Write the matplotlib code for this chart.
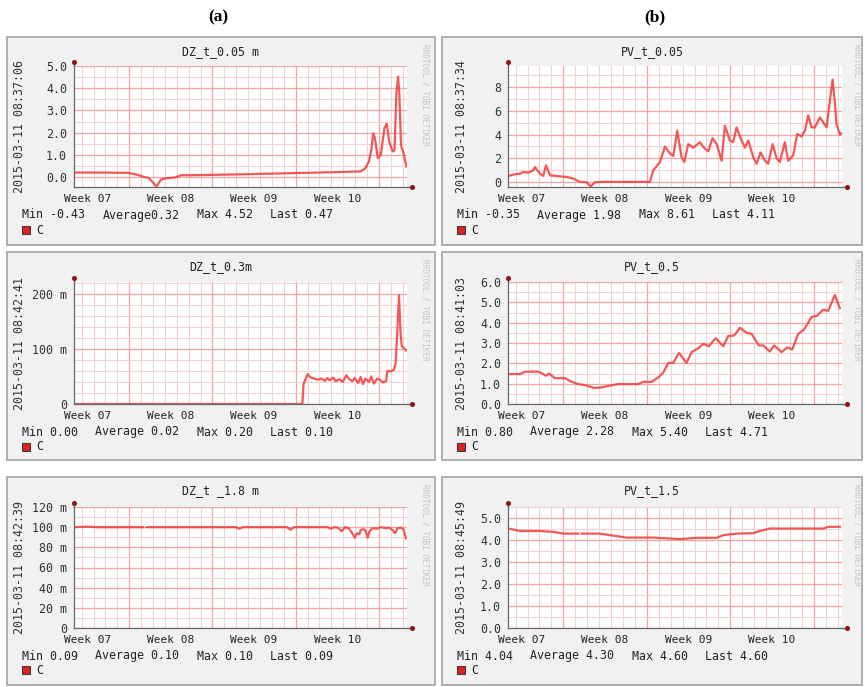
import numpy as np
import matplotlib.pyplot as plt
from matplotlib.patches import Rectangle

# x = days since 2015-02-11 08:37 (4-week window ending 2015-03-11)
week_starts = [4.64, 11.64, 18.64, 25.64]
week_mids = [1.14, 8.14, 15.14, 22.14]
week_labels = ["Week 07", "Week 08", "Week 09", "Week 10"]

# ---------- (a) DZ ----------
dz005_x = [0, 2, 4.5, 5.2, 5.8, 6.3, 6.95, 7.3, 7.8, 8.5, 9.0, 10, 14, 18, 22, 24.1,
           24.5, 24.8, 25.0, 25.15, 25.3, 25.55, 25.8, 26.1, 26.3, 26.5, 26.8, 26.95,
           27.1, 27.25, 27.35, 27.5, 27.7, 27.95]
dz005_y = [0.20, 0.20, 0.19, 0.12, 0.02, -0.05, -0.43, -0.12, -0.05, -0.02, 0.08, 0.08,
           0.12, 0.17, 0.22, 0.25, 0.40, 0.70, 1.20, 1.97, 1.75, 0.85, 1.00, 2.20, 2.40,
           1.60, 1.15, 1.20, 3.70, 4.52, 3.80, 1.40, 1.10, 0.47]

dz03_x = [0, 19.2, 19.3, 19.45, 19.65, 19.9, 20.2, 20.5, 20.8, 21.1, 21.3, 21.5, 21.8,
          22.0, 22.3, 22.6, 22.9, 23.1, 23.4, 23.6, 23.9, 24.1, 24.3, 24.5, 24.8, 25.0,
          25.2, 25.5, 25.7, 26.0, 26.25, 26.35, 26.6, 26.9, 27.05, 27.15, 27.33, 27.45,
          27.56, 27.7, 27.9]
dz03_y = [0, 0, 0.036, 0.044, 0.054, 0.048, 0.046, 0.044, 0.046, 0.042, 0.047, 0.043,
          0.048, 0.041, 0.045, 0.040, 0.052, 0.046, 0.041, 0.047, 0.038, 0.049, 0.036,
          0.046, 0.040, 0.050, 0.037, 0.046, 0.044, 0.039, 0.042, 0.060, 0.059, 0.062,
          0.075, 0.118, 0.197, 0.130, 0.105, 0.102, 0.097]

dz18_x = [0, 1, 2, 3, 5.8, 5.95, 6.1, 13.6, 13.9, 14.2, 17.9, 18.2, 18.5, 21.3, 21.6,
          21.9, 22.2, 22.5, 22.8, 23.1, 23.5, 23.6, 23.8, 24.0, 24.1, 24.3, 24.5, 24.7,
          24.85, 25.1, 25.5, 25.8, 26.2, 26.5, 26.8, 27.0, 27.2, 27.5, 27.7, 27.9]
dz18_y = [0.100, 0.1005, 0.100, 0.100, 0.100, np.nan, 0.100, 0.100, 0.0985, 0.100,
          0.100, 0.0975, 0.100, 0.100, 0.0985, 0.100, 0.0995, 0.096, 0.100, 0.099,
          0.092, 0.0895, 0.094, 0.093, 0.097, 0.098, 0.097, 0.0895, 0.096, 0.099,
          0.0985, 0.100, 0.099, 0.0995, 0.097, 0.094, 0.099, 0.0995, 0.098, 0.089]

# ---------- (b) PV ----------
pv005_x = [0.03, 0.59, 1.01, 1.29, 1.70, 2.12, 2.26, 2.68, 2.96, 3.18, 3.52, 3.94, 4.92,
           5.48, 6.03, 6.59, 6.93, 7.29, 7.99, 11.90, 12.18, 12.74, 13.16, 13.58, 13.86,
           14.19, 14.55, 14.78, 15.11, 15.53, 16.09, 16.51, 16.79, 17.15, 17.49, 17.91,
           18.18, 18.60, 18.88, 19.16, 19.58, 19.86, 20.14, 20.56, 20.84, 21.17, 21.54,
           21.81, 22.18, 22.52, 22.79, 23.21, 23.49, 23.91, 24.25, 24.61, 24.89, 25.17,
           25.45, 25.73, 26.15, 26.71, 26.93, 27.21, 27.40, 27.54, 27.82, 27.95]
pv005_y = [0.53, 0.67, 0.72, 0.86, 0.80, 1.00, 1.28, 0.72, 0.53, 1.42, 0.58, 0.53, 0.44,
           0.30, 0.03, 0.00, -0.35, 0.00, 0.03, 0.03, 1.00, 1.70, 3.00, 2.40, 2.20, 4.33,
           2.10, 1.70, 3.20, 2.90, 3.36, 2.80, 2.60, 3.70, 3.20, 1.80, 4.75, 3.50, 3.36,
           4.60, 3.50, 2.90, 3.50, 2.10, 1.55, 2.50, 1.80, 1.55, 3.20, 2.00, 1.70, 3.36,
           1.80, 2.25, 4.05, 3.83, 4.33, 5.60, 4.60, 4.60, 5.44, 4.60, 6.40, 8.61, 6.70,
           4.90, 4.00, 4.11]

pv05_x = [0.03, 1.01, 1.42, 2.54, 2.96, 3.16, 3.44, 3.94, 4.78, 5.33, 5.89, 6.45, 7.15,
          7.71, 8.41, 9.25, 10.92, 11.34, 12.04, 12.60, 13.02, 13.44, 13.85, 14.33, 14.97,
          15.39, 15.95, 16.37, 16.84, 17.40, 18.04, 18.46, 18.97, 19.44, 20.00, 20.42,
          21.03, 21.40, 21.95, 22.32, 22.93, 23.44, 23.83, 24.33, 24.83, 25.45, 25.87,
          26.42, 26.84, 27.40, 27.82]
pv05_y = [1.47, 1.47, 1.59, 1.59, 1.47, 1.39, 1.50, 1.27, 1.27, 1.09, 0.98, 0.93, 0.80,
          0.80, 0.89, 0.98, 0.98, 1.09, 1.09, 1.31, 1.55, 2.02, 2.02, 2.51, 2.02, 2.55,
          2.74, 2.96, 2.84, 3.24, 2.84, 3.34, 3.37, 3.75, 3.50, 3.45, 2.88, 2.88, 2.58,
          2.88, 2.55, 2.79, 2.68, 3.45, 3.67, 4.28, 4.33, 4.64, 4.58, 5.36, 4.71]

pv15_x = [0.03, 1.01, 2.68, 3.80, 4.64, 5.89, 6.03, 6.17, 7.71, 8.55, 9.95, 12.18, 14.42,
          15.81, 17.49, 18.04, 19.16, 20.56, 21.12, 21.95, 26.43, 26.85, 27.82]
pv15_y = [4.52, 4.41, 4.41, 4.37, 4.29, 4.29, np.nan, 4.29, 4.29, 4.22, 4.11, 4.11, 4.04,
          4.10, 4.10, 4.22, 4.29, 4.31, 4.41, 4.52, 4.52, 4.60, 4.60]

panels = [
    dict(col=0, row=0, x=dz005_x, y=dz005_y, title="DZ_t_0.05 m",
         date="2015-03-11 08:37:06", ylim=(-0.45, 5.0),
         yticks=[0, 1, 2, 3, 4, 5], ylabels=["0.0", "1.0", "2.0", "3.0", "4.0", "5.0"],
         yminor=0.5, stats=["Min -0.43", "Average0.32", "Max 4.52", "Last 0.47"]),
    dict(col=0, row=1, x=dz03_x, y=dz03_y, title="DZ_t_0.3m",
         date="2015-03-11 08:42:41", ylim=(0, 0.221),
         yticks=[0, 0.1, 0.2], ylabels=["0", "100 m", "200 m"],
         yminor=0.02, stats=["Min 0.00", "Average 0.02", "Max 0.20", "Last 0.10"]),
    dict(col=0, row=2, x=dz18_x, y=dz18_y, title="DZ_t _1.8 m",
         date="2015-03-11 08:42:39", ylim=(0, 0.12),
         yticks=[0, 0.02, 0.04, 0.06, 0.08, 0.10, 0.12],
         ylabels=["0", "20 m", "40 m", "60 m", "80 m", "100 m", "120 m"],
         yminor=0.01, stats=["Min 0.09", "Average 0.10", "Max 0.10", "Last 0.09"]),
    dict(col=1, row=0, x=pv005_x, y=pv005_y, title="PV_t_0.05",
         date="2015-03-11 08:37:34", ylim=(-0.4, 9.75),
         yticks=[0, 2, 4, 6, 8], ylabels=["0", "2", "4", "6", "8"],
         yminor=1.0, stats=["Min -0.35", "Average 1.98", "Max 8.61", "Last 4.11"]),
    dict(col=1, row=1, x=pv05_x, y=pv05_y, title="PV_t_0.5",
         date="2015-03-11 08:41:03", ylim=(0, 6.0),
         yticks=[0, 1, 2, 3, 4, 5, 6],
         ylabels=["0.0", "1.0", "2.0", "3.0", "4.0", "5.0", "6.0"],
         yminor=0.5, stats=["Min 0.80", "Average 2.28", "Max 5.40", "Last 4.71"]),
    dict(col=1, row=2, x=pv15_x, y=pv15_y, title="PV_t_1.5",
         date="2015-03-11 08:45:49", ylim=(0, 5.5),
         yticks=[0, 1, 2, 3, 4, 5], ylabels=["0.0", "1.0", "2.0", "3.0", "4.0", "5.0"],
         yminor=0.5, stats=["Min 4.04", "Average 4.30", "Max 4.60", "Last 4.60"]),
]

# ---------- layout (pixels) ----------
W, H = 865, 687
COLS = [dict(box=(7, 435), plot=(74, 407), date=20, rrd=425, stats=22),
        dict(box=(442, 862), plot=(508, 842), date=462, rrd=857, stats=457)]
ROWS = [dict(box=(37, 245), title=52, plot=(66, 187), stats=215, legend=230),
        dict(box=(252, 460), title=267, plot=(282, 404), stats=432, legend=447),
        dict(box=(477, 685), title=491, plot=(507, 628), stats=656, legend=670)]

BOX_BG = "#f1f1f1"
BOX_EDGE = "#a9a9a9"
GRID_MINOR = "#efd3d3"
GRID_MAJOR = "#f0a4a4"
LINE = "#f24646"
AXIS = "#666666"
ARROW = "#8a1515"
MONO = "DejaVu Sans Mono"
FS = 8.4
FS_WEEK = 8.0
CHAR = 7.05  # px per monospace char


def fx(px):
    return px / W


def fy(py):
    return 1 - py / H


fig = plt.figure(figsize=(8.65, 6.87), dpi=100)

fig.text(fx(218), fy(17), "(a)", ha="center", va="center",
         family="Liberation Serif", weight="bold", fontsize=12.5)
fig.text(fx(655), fy(17), "(b)", ha="center", va="center",
         family="Liberation Serif", weight="bold", fontsize=12.5)

for p in panels:
    c = COLS[p["col"]]
    r = ROWS[p["row"]]
    bx0, bx1 = c["box"]
    by0, by1 = r["box"]
    fig.add_artist(Rectangle((fx(bx0), fy(by1)), (bx1 - bx0) / W, (by1 - by0) / H,
                             transform=fig.transFigure, facecolor=BOX_BG,
                             edgecolor=BOX_EDGE, linewidth=1.3, zorder=-5))

    px0, px1 = c["plot"]
    py0, py1 = r["plot"]
    ax = fig.add_axes([fx(px0), fy(py1), (px1 - px0) / W, (py1 - py0) / H])
    ax.set_facecolor("white")

    # grid: daily minor / weekly major
    ax.set_xlim(0, 28)
    ax.set_ylim(*p["ylim"])
    ax.set_xticks(week_starts)
    ax.set_xticks(np.arange(0.64, 28, 1.0), minor=True)
    ax.set_yticks(p["yticks"])
    ax.set_yticklabels(p["ylabels"], family=MONO, fontsize=FS, color="#333333")
    lo, hi = p["ylim"]
    m = p["yminor"]
    ax.set_yticks(np.arange(np.ceil(lo / m) * m, hi + 1e-9, m), minor=True)
    ax.grid(which="minor", color=GRID_MINOR, linewidth=0.8)
    ax.grid(which="major", color=GRID_MAJOR, linewidth=0.9)
    ax.set_axisbelow(True)
    ax.tick_params(which="both", length=0)
    ax.tick_params(axis="y", pad=5)
    ax.tick_params(axis="x", labelbottom=False)
    for s in ("top", "right"):
        ax.spines[s].set_visible(False)
    for s in ("left", "bottom"):
        ax.spines[s].set_color(AXIS)
        ax.spines[s].set_linewidth(0.9)

    sec = ax.secondary_xaxis("bottom")
    sec.set_xticks(week_mids)
    sec.set_xticklabels(week_labels, family=MONO, fontsize=FS_WEEK, color="#222222")
    sec.tick_params(length=0, pad=5.2)
    sec.spines["bottom"].set_visible(False)

    # axis arrows
    ax.plot([0, 0], [1.0, 1.035], transform=ax.transAxes, color=AXIS, lw=0.9,
            clip_on=False)
    ax.plot([0], [1.035], transform=ax.transAxes, marker="o", ms=2.6, color=ARROW,
            clip_on=False)
    ax.plot([1.0, 1.015], [0, 0], transform=ax.transAxes, color=AXIS, lw=0.9,
            clip_on=False)
    ax.plot([1.015], [0], transform=ax.transAxes, marker="o", ms=2.6, color=ARROW,
            clip_on=False)

    ax.plot(p["x"], p["y"], color=LINE, lw=1.6, alpha=0.9, solid_joinstyle="round")

    # texts
    fig.text(fx((bx0 + bx1) / 2), fy(r["title"]), p["title"], ha="center", va="center",
             family=MONO, fontsize=FS, color="#222222")
    fig.text(fx(c["date"]), fy((py0 + py1) / 2), p["date"], ha="center", va="center",
             rotation=90, family=MONO, fontsize=FS, color="#333333")
    fig.text(fx(c["rrd"]), fy(by0 + 7), "RRDTOOL / TOBI OETIKER", ha="center", va="top",
             rotation=-90, family=MONO, fontsize=5.6, color="#c4c4c4")

    xs = c["stats"]
    for part in p["stats"]:
        fig.text(fx(xs), fy(r["stats"]), part, ha="left", va="center",
                 family=MONO, fontsize=FS, color="#222222")
        xs += len(part) * CHAR + 17

    ly = r["legend"]
    fig.add_artist(Rectangle((fx(c["stats"]), fy(ly + 4)), 8 / W, 8 / H,
                             transform=fig.transFigure, facecolor="#dd2020",
                             edgecolor="#333333", linewidth=0.7))
    fig.text(fx(c["stats"] + 14), fy(ly), "C", ha="left", va="center",
             family=MONO, fontsize=FS, color="#222222")

fig.savefig("out.png", dpi=100, facecolor="white")
